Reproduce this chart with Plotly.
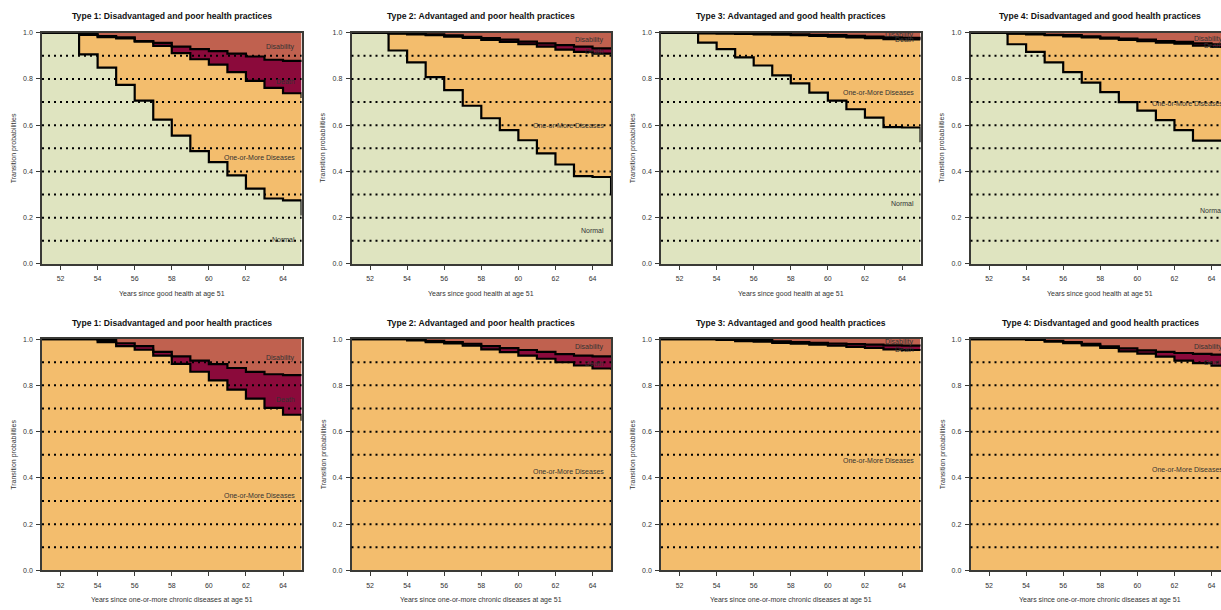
import plotly.graph_objects as go

# ---------------- data ----------------
years = list(range(51, 66))
x_tick_vals = [52, 54, 56, 58, 60, 62, 64]
y_tick_vals = [0.0, 0.2, 0.4, 0.6, 0.8, 1.0]
grid_levels = [0.1, 0.2, 0.3, 0.4, 0.5, 0.6, 0.7, 0.8, 0.9]

titles = [
    "Type 1: Disadvantaged and poor health practices",
    "Type 2: Advantaged and poor health practices",
    "Type 3: Advantaged and good health practices",
    "Type 4: Disadvantaged and good health practices",
    "Type 1: Disadvantaged and poor health practices",
    "Type 2: Advantaged and poor health practices",
    "Type 3: Advantaged and good health practices",
    "Type 4: Disdvantaged and good health practices",
]
x_title_top = "Years since good health at age 51"
x_title_bottom = "Years since one-or-more chronic diseases at age 51"
y_title = "Transition probabilities"
state_names = ["Normal", "One-or-More Diseases", "Death", "Disability"]

# cumulative upper bounds (Normal, +Diseases, +Death); Disability fills up to 1
# top row: starting in good health at age 51
g1_normal = [1, 1, 0.906, 0.849, 0.774, 0.706, 0.624, 0.555, 0.488, 0.440, 0.383, 0.326, 0.283, 0.275, 0.21]
g1_disease = [1, 1, 0.990, 0.981, 0.975, 0.961, 0.943, 0.912, 0.885, 0.862, 0.829, 0.792, 0.761, 0.738, 0.718]
g1_death = [1, 1, 0.998, 0.985, 0.980, 0.964, 0.956, 0.940, 0.929, 0.920, 0.909, 0.897, 0.883, 0.878, 0.874]

g2_normal = [1, 1, 0.923, 0.872, 0.808, 0.752, 0.684, 0.630, 0.579, 0.535, 0.478, 0.430, 0.380, 0.376, 0.30]
g2_disease = [1, 1, 0.996, 0.993, 0.989, 0.983, 0.977, 0.969, 0.960, 0.950, 0.940, 0.927, 0.917, 0.909, 0.905]
g2_death = [1, 1, 0.998, 0.996, 0.993, 0.988, 0.982, 0.976, 0.970, 0.961, 0.954, 0.946, 0.940, 0.932, 0.928]

g3_normal = [1, 1, 0.957, 0.929, 0.893, 0.858, 0.815, 0.781, 0.741, 0.706, 0.669, 0.633, 0.592, 0.590, 0.526]
g3_disease = [1, 1, 0.997, 0.996, 0.995, 0.993, 0.991, 0.989, 0.986, 0.983, 0.980, 0.976, 0.972, 0.971, 0.969]
g3_death = [1, 1, 0.999, 0.999, 0.998, 0.997, 0.995, 0.993, 0.991, 0.989, 0.986, 0.983, 0.980, 0.978, 0.977]

g4_normal = [1, 1, 0.950, 0.917, 0.872, 0.829, 0.784, 0.743, 0.700, 0.663, 0.622, 0.579, 0.533, 0.533, 0.47]
g4_disease = [1, 1, 0.996, 0.993, 0.989, 0.984, 0.980, 0.974, 0.969, 0.963, 0.957, 0.952, 0.944, 0.938, 0.934]
g4_death = [1, 1, 0.997, 0.996, 0.991, 0.989, 0.984, 0.979, 0.974, 0.970, 0.964, 0.960, 0.954, 0.950, 0.947]

# bottom row: starting with one-or-more chronic diseases at age 51
c_normal = [0] * 15
c1_disease = [1, 1, 1, 0.987, 0.970, 0.954, 0.929, 0.893, 0.859, 0.822, 0.782, 0.743, 0.703, 0.673, 0.647]
c1_death = [1, 1, 1, 0.996, 0.982, 0.970, 0.945, 0.925, 0.907, 0.892, 0.875, 0.858, 0.848, 0.844, 0.840]

c2_disease = [1, 1, 1, 0.994, 0.987, 0.981, 0.972, 0.956, 0.944, 0.929, 0.915, 0.900, 0.886, 0.873, 0.868]
c2_death = [1, 1, 1, 0.998, 0.992, 0.987, 0.980, 0.970, 0.961, 0.953, 0.945, 0.935, 0.929, 0.925, 0.922]

c3_disease = [1, 1, 1, 0.997, 0.991, 0.989, 0.984, 0.980, 0.976, 0.972, 0.966, 0.962, 0.956, 0.953, 0.950]
c3_death = [1, 1, 1, 0.999, 0.998, 0.997, 0.990, 0.987, 0.984, 0.981, 0.978, 0.976, 0.973, 0.972, 0.971]

c4_disease = [1, 1, 1, 0.997, 0.989, 0.983, 0.973, 0.962, 0.947, 0.937, 0.924, 0.907, 0.896, 0.885, 0.880]
c4_death = [1, 1, 1, 0.999, 0.993, 0.987, 0.979, 0.969, 0.960, 0.951, 0.945, 0.940, 0.936, 0.933, 0.930]

panels = [
    (g1_normal, g1_disease, g1_death),
    (g2_normal, g2_disease, g2_death),
    (g3_normal, g3_disease, g3_death),
    (g4_normal, g4_disease, g4_death),
    (c_normal, c1_disease, c1_death),
    (c_normal, c2_disease, c2_death),
    (c_normal, c3_disease, c3_death),
    (c_normal, c4_disease, c4_death),
]

# label vertical positions (Normal, Diseases, Death, Disability); None = not shown
label_y = [
    (0.105, 0.46, 0.79, 0.94),
    (0.146, 0.60, 0.918, 0.97),
    (0.26, 0.743, 0.972, 0.988),
    (0.23, 0.694, 0.944, 0.973),
    (None, 0.323, 0.741, 0.918),
    (None, 0.428, 0.896, 0.964),
    (None, 0.474, 0.957, 0.986),
    (None, 0.438, 0.900, 0.964),
]

# ---------------- style ----------------
W, H = 1221, 610
col_green = "#DFE4C0"
col_orange = "#F3BD6D"
col_death = "#8B0A3B"
col_disab = "#C0614F"
fill_cols = [col_green, col_orange, col_death, col_disab]
frame_col = "#3A3A36"
text_col = "#333333"
FONT = "Arial, Liberation Sans, sans-serif"

px_per_year = 18.54
col_left = [42, 351.5, 661, 970.5]
row_top = [29, 339]
plot_h = 234

fig = go.Figure()
layout_axes = {}
annotations = []
shapes = []

for i, (nrm, dis, dth) in enumerate(panels):
    r, c = divmod(i, 4)
    n = i + 1
    xa = "x" if n == 1 else f"x{n}"
    ya = "y" if n == 1 else f"y{n}"
    left = col_left[c]
    right = min(left + 14 * px_per_year, W)
    xmax = 51 + (right - left) / px_per_year
    top = row_top[r]
    bottom = top + plot_h
    xdom = [left / W, right / W]
    ydom = [1 - bottom / H, 1 - top / H]

    ones = [1] * len(years)
    uppers = [nrm, dis, dth, ones]
    for k, up in enumerate(uppers):
        if r == 1 and k == 0:
            continue
        first = (k == 0) or (r == 1 and k == 1)
        fig.add_trace(go.Scatter(
            x=years, y=up, xaxis=xa, yaxis=ya, mode="lines",
            line=dict(width=0, shape="hv", color=fill_cols[k]),
            fill="tozeroy" if first else "tonexty",
            fillcolor=fill_cols[k], showlegend=False, hoverinfo="skip",
        ))
    for k, up in enumerate([nrm, dis, dth]):
        if r == 1 and k == 0:
            continue
        fig.add_trace(go.Scatter(
            x=years, y=up, xaxis=xa, yaxis=ya, mode="lines",
            line=dict(width=2.2, shape="hv", color="black"),
            showlegend=False, hoverinfo="skip",
        ))

    axkey_x = "xaxis" if n == 1 else f"xaxis{n}"
    axkey_y = "yaxis" if n == 1 else f"yaxis{n}"
    layout_axes[axkey_x] = dict(
        domain=xdom, range=[51, xmax], anchor=ya,
        tickvals=x_tick_vals, ticks="outside", ticklen=4, tickcolor=frame_col,
        ticklabelstandoff=3,
        showgrid=False, zeroline=False, showline=True, linecolor=frame_col,
        linewidth=1.5, mirror=True,
        tickfont=dict(size=7, color=text_col, family=FONT),
    )
    layout_axes[axkey_y] = dict(
        domain=ydom, range=[0, 1], anchor=xa,
        tickvals=y_tick_vals, tickformat=".1f", ticks="outside", ticklen=4,
        ticklabelstandoff=2,
        tickcolor=frame_col, showgrid=False, zeroline=False, showline=True,
        linecolor=frame_col, linewidth=1.5, mirror=(c != 3),
        tickfont=dict(size=7, color=text_col, family=FONT),
    )

    for g in grid_levels:
        shapes.append(dict(
            type="line", xref=f"{xa} domain", yref=ya, x0=0, x1=1, y0=g, y1=g,
            line=dict(color="black", width=2, dash="2px,4px"), layer="above",
        ))

    # title
    annotations.append(dict(
        text=f"<b>{titles[i]}</b>", xref="paper", yref=f"{ya} domain",
        x=(left + 7 * px_per_year) / W, y=1 + 16.5 / plot_h,
        showarrow=False, xanchor="center", yanchor="middle",
        font=dict(size=8.6, color="#111111", family=FONT),
    ))
    # x-axis title
    annotations.append(dict(
        text=x_title_top if r == 0 else x_title_bottom,
        xref="paper", yref=f"{ya} domain",
        x=(left + 7 * px_per_year) / W, y=-30 / plot_h,
        showarrow=False, xanchor="center", yanchor="middle",
        font=dict(size=7, color=text_col, family=FONT),
    ))
    # y-axis title
    annotations.append(dict(
        text=y_title, xref="paper", yref=f"{ya} domain",
        x=(left - 28) / W, y=0.5, textangle=-90,
        showarrow=False, xanchor="center", yanchor="middle",
        font=dict(size=7, color=text_col, family=FONT),
    ))
    # state labels
    lab_x = (left + 13.75 * px_per_year) / W
    for k, yy in enumerate(label_y[i]):
        if yy is None:
            continue
        annotations.append(dict(
            text=state_names[k], xref="paper", yref=ya, x=lab_x, y=yy,
            showarrow=False, xanchor="right", yanchor="middle",
            font=dict(size=7, color=text_col, family=FONT),
        ))

fig.update_layout(
    width=W, height=H, margin=dict(l=0, r=0, t=0, b=0),
    paper_bgcolor="white", plot_bgcolor="white",
    showlegend=False, annotations=annotations, shapes=shapes,
    **layout_axes,
)

fig.write_html("out.html")
